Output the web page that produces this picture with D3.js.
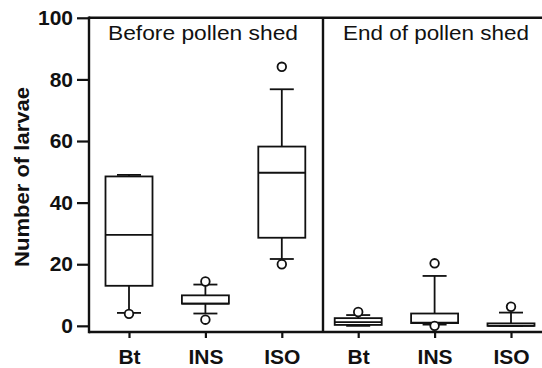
<!DOCTYPE html>
<html>
<head>
<meta charset="utf-8">
<script src="https://cdn.jsdelivr.net/npm/d3@7"></script>
<style>
  html, body { margin: 0; padding: 0; background: #fff; }
  svg { display: block; font-family: "Liberation Sans", Arial, sans-serif; }
</style>
</head>
<body>
<svg id="chart" width="542" height="368"></svg>
<script>
// Sampling periods (panels) and treatments within each panel
const periods = ["Before pollen shed", "End of pollen shed"];
const treatments = ["Bt", "INS", "ISO"];

// Box statistics, in order: Bt, INS, ISO before shed, then Bt, INS, ISO at end of shed
const whiskerLow  = [4.2, 4.0, 21.7, 0.0, 0.4, 0.0];
const quartile1   = [13.0, 7.2, 28.6, 0.3, 0.9, 0.0];
const medians     = [29.5, 7.2, 49.7, 1.2, 1.0, 0.0];
const quartile3   = [48.5, 9.9, 58.2, 2.5, 4.0, 0.8];
const whiskerHigh = [49.0, 13.4, 76.8, 3.5, 16.2, 4.3];
const outliers    = [[3.9], [14.4, 2.0], [84.1, 20.0], [4.5], [20.3, 0.0], [6.2]];

const yTicks = [0, 20, 40, 60, 80, 100];
const yLabel = "Number of larvae";

// Combined rows for drawing
const keys = [];
periods.forEach((p, i) => treatments.forEach(t => keys.push(i + "|" + t)));
const rows = keys.map((k, i) => ({
  key: k,
  label: k.split("|")[1],
  lo: whiskerLow[i], q1: quartile1[i], med: medians[i],
  q3: quartile3[i], hi: whiskerHigh[i], out: outliers[i]
}));

const svg = d3.select("#chart");
const plotLeft = 89, plotRight = 542, plotTop = 17.8, axisY = 332;
const dividerX = 323;

const x = d3.scalePoint().domain(keys).range([129, 511]);
const y = d3.scaleLinear().domain([-2, 100]).range([axisY, plotTop]);

const boxW = 47, capW = 24;
const ink = "#111";

// Boxes and whiskers
const g = svg.append("g").attr("stroke", ink).attr("fill", "none").attr("stroke-width", 1.8);
rows.forEach(d => {
  const cx = x(d.key);
  // whisker stems
  g.append("line").attr("x1", cx).attr("x2", cx).attr("y1", y(d.q3)).attr("y2", y(d.hi));
  g.append("line").attr("x1", cx).attr("x2", cx).attr("y1", y(d.q1)).attr("y2", y(d.lo));
  // caps
  g.append("line").attr("x1", cx - capW / 2).attr("x2", cx + capW / 2).attr("y1", y(d.hi)).attr("y2", y(d.hi));
  g.append("line").attr("x1", cx - capW / 2).attr("x2", cx + capW / 2).attr("y1", y(d.lo)).attr("y2", y(d.lo));
  // box
  g.append("rect").attr("x", cx - boxW / 2).attr("width", boxW)
    .attr("y", y(d.q3)).attr("height", Math.max(0.01, y(d.q1) - y(d.q3)))
    .attr("fill", "#fff");
  // median
  g.append("line").attr("x1", cx - boxW / 2).attr("x2", cx + boxW / 2).attr("y1", y(d.med)).attr("y2", y(d.med));
  // outliers
  d.out.forEach(v => {
    g.append("circle").attr("cx", cx).attr("cy", y(v)).attr("r", 4.3).attr("fill", "#fff");
  });
});

// Frame: top border and panel divider
svg.append("line").attr("x1", plotLeft).attr("x2", plotRight).attr("y1", plotTop).attr("y2", plotTop)
  .attr("stroke", ink).attr("stroke-width", 2.4);
svg.append("line").attr("x1", dividerX).attr("x2", dividerX).attr("y1", plotTop).attr("y2", axisY)
  .attr("stroke", ink).attr("stroke-width", 2.4);

// Y axis
const yAxis = svg.append("g").attr("transform", `translate(${plotLeft},0)`)
  .call(d3.axisLeft(y).tickValues(yTicks).tickSize(12).tickPadding(4).tickSizeOuter(0));
yAxis.select(".domain").remove();
yAxis.append("line").attr("x1", 0).attr("x2", 0).attr("y1", plotTop - 1.2).attr("y2", axisY + 1.2)
  .attr("stroke", ink).attr("stroke-width", 2.4);
yAxis.selectAll(".tick line").attr("stroke", ink).attr("stroke-width", 2.2);
yAxis.selectAll(".tick text").attr("fill", ink).style("font-size", "21px").style("font-weight", "bold")
  .style("font-family", "'Liberation Sans', Arial, sans-serif");

// X axis
const xAxis = svg.append("g").attr("transform", `translate(0,${axisY})`)
  .call(d3.axisBottom(x).tickSize(6).tickPadding(11).tickFormat(k => k.split("|")[1]));
xAxis.select(".domain").remove();
xAxis.append("line").attr("x1", plotLeft).attr("x2", plotRight).attr("y1", 0).attr("y2", 0)
  .attr("stroke", ink).attr("stroke-width", 2.4);
xAxis.selectAll(".tick line").attr("stroke", ink).attr("stroke-width", 2.2);
xAxis.selectAll(".tick text").attr("fill", ink).style("font-size", "21px").style("font-weight", "bold")
  .style("font-family", "'Liberation Sans', Arial, sans-serif");

// Panel titles, stretched to the width of each panel heading
const titleX = [108, 343], titleW = [190, 186];
periods.forEach((p, i) => {
  svg.append("text").attr("x", titleX[i]).attr("y", 40)
    .attr("fill", ink)
    .attr("textLength", titleW[i]).attr("lengthAdjust", "spacingAndGlyphs")
    .style("font-size", "21px").text(p);
});

// Y axis title
svg.append("text")
  .attr("transform", `translate(29,177) rotate(-90)`)
  .attr("text-anchor", "middle").attr("fill", ink)
  .attr("textLength", 180).attr("lengthAdjust", "spacingAndGlyphs")
  .style("font-size", "21px").style("font-weight", "bold")
  .text(yLabel);
</script>
</body>
</html>
